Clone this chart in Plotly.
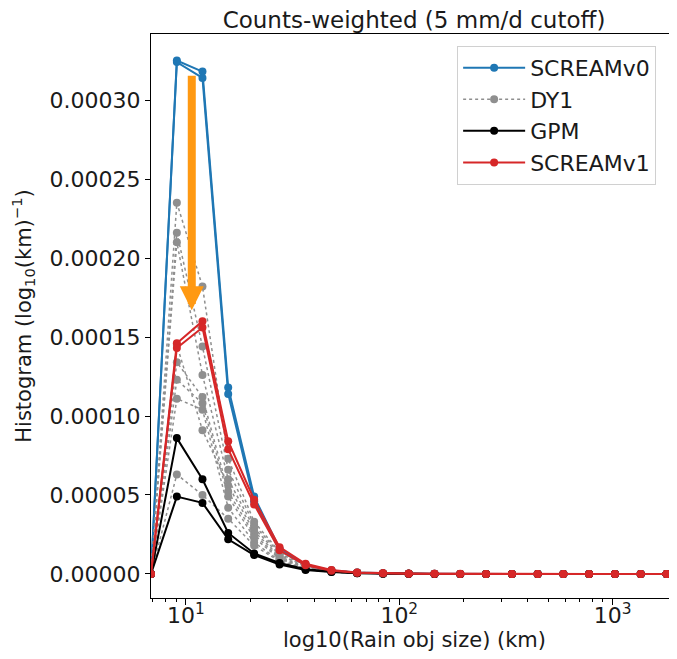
import plotly.graph_objects as go

# ---------------- data ----------------
size_km = [6.87, 9.08, 11.97, 15.8, 20.9, 27.5, 36.4, 48.1, 63.5, 83.9, 110.7,
           146.2, 193.1, 255, 337, 445, 587, 775, 1024, 1352, 1786]

scream_v0_runs = [
    [0, 3.25e-4, 3.18e-4, 1.18e-4, 4.9e-5, 1.6e-5, 6.0e-6, 2.2e-6, 9e-7, 4e-7, 2e-7,
     1e-7, 5e-8, 0, 0, 0, 0, 0, 0, 0, 0],
    [0, 3.24e-4, 3.14e-4, 1.14e-4, 4.6e-5, 1.5e-5, 5.5e-6, 2.0e-6, 8e-7, 3e-7, 1e-7,
     5e-8, 0, 0, 0, 0, 0, 0, 0, 0, 0],
]

dy1_runs = [
    [0, 2.35e-4, 1.82e-4, 7.3e-5, 3.3e-5, 1.4e-5, 6.0e-6, 2.5e-6, 1.0e-6, 4e-7, 2e-7, 1e-7, 0, 0, 0, 0, 0, 0, 0, 0, 0],
    [0, 2.16e-4, 1.44e-4, 6.6e-5, 3.1e-5, 1.3e-5, 5.5e-6, 2.2e-6, 9e-7, 4e-7, 2e-7, 1e-7, 0, 0, 0, 0, 0, 0, 0, 0, 0],
    [0, 2.10e-4, 1.26e-4, 6.0e-5, 2.9e-5, 1.2e-5, 5.0e-6, 2.0e-6, 8e-7, 3e-7, 1e-7, 0, 0, 0, 0, 0, 0, 0, 0, 0, 0],
    [0, 1.45e-4, 9.1e-5, 5.6e-5, 2.7e-5, 1.1e-5, 4.5e-6, 1.8e-6, 7e-7, 3e-7, 1e-7, 0, 0, 0, 0, 0, 0, 0, 0, 0, 0],
    [0, 1.34e-4, 1.12e-4, 5.2e-5, 2.5e-5, 1.0e-5, 4.2e-6, 1.6e-6, 6e-7, 3e-7, 1e-7, 0, 0, 0, 0, 0, 0, 0, 0, 0, 0],
    [0, 1.23e-4, 1.08e-4, 4.9e-5, 2.3e-5, 9.5e-6, 4.0e-6, 1.5e-6, 6e-7, 2e-7, 1e-7, 0, 0, 0, 0, 0, 0, 0, 0, 0, 0],
    [0, 1.11e-4, 1.04e-4, 4.2e-5, 2.0e-5, 8.5e-6, 3.5e-6, 1.3e-6, 5e-7, 2e-7, 1e-7, 0, 0, 0, 0, 0, 0, 0, 0, 0, 0],
    [0, 6.3e-5, 5.0e-5, 3.5e-5, 1.8e-5, 8.0e-6, 3.0e-6, 1.2e-6, 5e-7, 2e-7, 1e-7, 0, 0, 0, 0, 0, 0, 0, 0, 0, 0],
]

gpm_runs = [
    [0, 8.6e-5, 6.0e-5, 2.6e-5, 1.3e-5, 7.0e-6, 3.0e-6, 1.5e-6, 7e-7, 3e-7, 1e-7, 0, 0, 0, 0, 0, 0, 0, 0, 0, 0],
    [0, 4.9e-5, 4.5e-5, 2.2e-5, 1.2e-5, 6.0e-6, 2.5e-6, 1.2e-6, 5e-7, 2e-7, 1e-7, 0, 0, 0, 0, 0, 0, 0, 0, 0, 0],
]

scream_v1_runs = [
    [0, 1.46e-4, 1.60e-4, 8.4e-5, 4.7e-5, 1.7e-5, 6.5e-6, 2.5e-6, 1.0e-6, 5e-7, 3e-7,
     2e-7, 1e-7, 5e-8, 0, 0, 0, 0, 0, 0, 0],
    [0, 1.43e-4, 1.56e-4, 7.9e-5, 4.4e-5, 1.5e-5, 5.5e-6, 2.0e-6, 8e-7, 4e-7, 2e-7,
     1e-7, 5e-8, 0, 0, 0, 0, 0, 0, 0, 0],
]

y_ticks = [0, 5e-5, 1e-4, 1.5e-4, 2e-4, 2.5e-4, 3e-4]
x_major = [10, 100, 1000]
x_major_text = ["10<sup>1</sup>", "10<sup>2</sup>", "10<sup>3</sup>"]
x_minor = [7, 8, 9, 20, 30, 40, 50, 60, 70, 80, 90, 200, 300, 400, 500, 600, 700, 800, 900, 2000]

FONT = "DejaVu Sans"
TXT = "#1a1a1a"

fig = go.Figure()

def add_group(runs, name, color, width, dash="solid", msize=8):
    for i, r in enumerate(runs):
        fig.add_trace(go.Scatter(
            x=size_km, y=r, mode="lines+markers", name=name,
            legendgroup=name, showlegend=(i == 0),
            line=dict(color=color, width=width, dash=dash),
            marker=dict(color=color, size=msize),
        ))

add_group(scream_v0_runs, "SCREAMv0", "#1f77b4", 2)
add_group(dy1_runs, "DY1", "#8f8f8f", 1.5, dash="dot")
add_group(gpm_runs, "GPM", "#000000", 2)
add_group(scream_v1_runs, "SCREAMv1", "#d62728", 2)

# dummy trace for the minor-tick overlay axis
fig.add_trace(go.Scatter(x=[size_km[1]], y=[0], xaxis="x2", mode="markers",
                         marker=dict(opacity=0), showlegend=False, hoverinfo="skip"))

# page body has an 8px margin: shrink the figure so the whole page is 677x659
W, H = 669, 651
xr = [0.837, 3.301]
fig.update_layout(
    width=W, height=H,
    margin=dict(l=143, r=0, t=26, b=61),
    paper_bgcolor="white", plot_bgcolor="white",
    font=dict(family=FONT, color=TXT, size=21),
    title=dict(text="Counts-weighted (5 mm/d cutoff)", x=0.5, xref="paper", xanchor="center",
               y=1 - 12 / H, yanchor="middle", yref="container",
               font=dict(size=23, family=FONT, color=TXT)),
    xaxis=dict(type="log", range=xr, tickvals=x_major, ticktext=x_major_text,
               ticks="outside", ticklen=6, tickcolor="black", showgrid=False,
               showline=True, linecolor="black", linewidth=1, mirror=True,
               zeroline=False, tickfont=dict(size=22), automargin=False,
               ticklabelstandoff=-8),
    xaxis2=dict(type="log", range=xr, overlaying="x", anchor="y", side="bottom",
                tickvals=x_minor, ticks="outside", ticklen=3, tickcolor="black",
                showticklabels=False, showgrid=False, showline=False, zeroline=False,
                automargin=False),
    yaxis=dict(range=[-1.52e-5, 3.418e-4], tickvals=y_ticks, tickformat=".5f",
               ticks="outside", ticklen=5, tickcolor="black", showgrid=False,
               showline=True, linecolor="black", linewidth=1, mirror=False,
               zeroline=False, tickfont=dict(size=22), automargin=False,
               title=dict(text="Histogram (log<sub>10</sub>(km)<sup>\u22121</sup>)",
                          font=dict(size=21))),
    legend=dict(x=0.582, y=0.979, xanchor="left", yanchor="top",
                bgcolor="rgba(255,255,255,0.85)", bordercolor="#d0d0d0", borderwidth=1,
                font=dict(size=22, family=FONT, color=TXT), itemwidth=62,
                traceorder="normal"),
    annotations=[
        dict(x=1.028, y=1.67e-4, xref="x", yref="y", text="",
             showarrow=True, ax=0, ay=-236, axref="pixel", ayref="pixel",
             arrowcolor="#ff9912", arrowwidth=8, arrowhead=2, arrowsize=0.6),
        dict(x=0.5, y=-(640 - 8 - 564 - 26) / 564, xref="paper", yref="paper",
             text="log10(Rain obj size) (km)", showarrow=False,
             xanchor="center", yanchor="middle", font=dict(size=21, family=FONT, color=TXT)),
    ],
)

fig.write_html("out.html")
